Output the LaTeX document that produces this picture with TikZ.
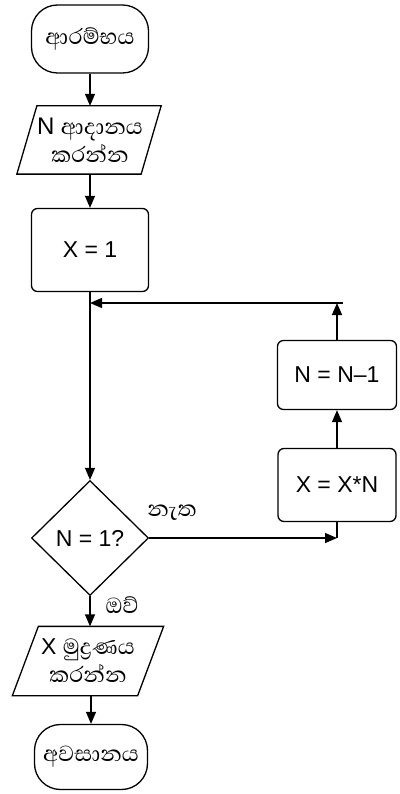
\documentclass[tikz,border=0pt]{standalone}
\usepackage{fontspec}
\setmainfont{Liberation Sans}
\newfontfamily\sinhalafont[Script=Sinhala]{Abhaya Libre}
\usetikzlibrary{shapes.geometric,arrows.meta}
\newcommand\sitxt[1]{{\sinhalafont\fontsize{28}{28}\selectfont #1}}
\newcommand\latbig[1]{{\fontsize{24}{28}\selectfont #1}}
\begin{document}
\begin{tikzpicture}[x=1pt,y=-1pt,line width=1.3pt,
  arr/.style={-{Triangle[length=12pt,width=10pt]}},
  base/.style={inner sep=0pt,align=center,font=\fontsize{23}{28}\selectfont},
  term/.style={base,draw,rounded corners=26pt},
  proc/.style={base,draw,rounded corners=6pt},
  io/.style={base},
  decision/.style={base,draw,diamond,aspect=1},
  lbl/.style={inner sep=0pt}]
\useasboundingbox (0,0) rectangle (399,794);
\node[term,minimum width=117pt,minimum height=68pt] (start) at (90,39) {\sitxt{ආරම්භය}};
\node[io,minimum width=121pt,minimum height=67pt] (in) at (90,140) {\latbig{N} \sitxt{ආදානය}\\\sitxt{කරන්න}};
\draw ([xshift=8pt]in.north west) -- ([xshift=10pt]in.north east) -- ([xshift=-10pt]in.south east) -- ([xshift=-12pt]in.south west) -- cycle;
\node[proc,minimum width=117pt,minimum height=83pt] (x1) at (90,250) {X = 1};
\node[proc,minimum width=119pt,minimum height=69pt] (nm1) at (337,375) {N = N--1};
\node[proc,minimum width=118pt,minimum height=73pt] (xn) at (337,485) {X = X*N};
\node[decision,minimum width=117pt,minimum height=115pt] (dec) at (90,538) {N = 1?};
\node[io,minimum width=124pt,minimum height=68pt] (out) at (88,661) {X \sitxt{මුද්‍රණය}\\\sitxt{කරන්න}};
\draw ([xshift=13pt]out.north west) -- ([xshift=13pt]out.north east) -- ([xshift=-13pt]out.south east) -- ([xshift=-13pt]out.south west) -- cycle;
\node[term,minimum width=113pt,minimum height=65pt] (end) at (91,757) {\sitxt{අවසානය}};
\coordinate (j) at (90,303);
\coordinate (rr) at (343,303);
\coordinate (c) at (337,538);
\draw[arr] (start.south) -- (in.north -| start.south);
\draw[arr] (in.south -| x1.south) -- (x1.north);
\draw[arr] (x1.south) -- (dec.north);
\draw[arr] (xn.north) -- (nm1.south);
\draw[arr] (nm1.north) -- (nm1.north |- rr);
\draw[arr] (rr) -- (j);
\draw[arr] (dec.east) -- (c);
\draw (c) -- (xn.south);
\draw[arr] (dec.south) -- (out.north -| dec.south);
\draw[arr] (out.south -| end.north) -- (end.north);
\node[lbl] (no) at (172,513) {\sitxt{නැත}};
\node[lbl] (yes) at (122,605) {\sitxt{ඔව්}};
\end{tikzpicture}
\end{document}
